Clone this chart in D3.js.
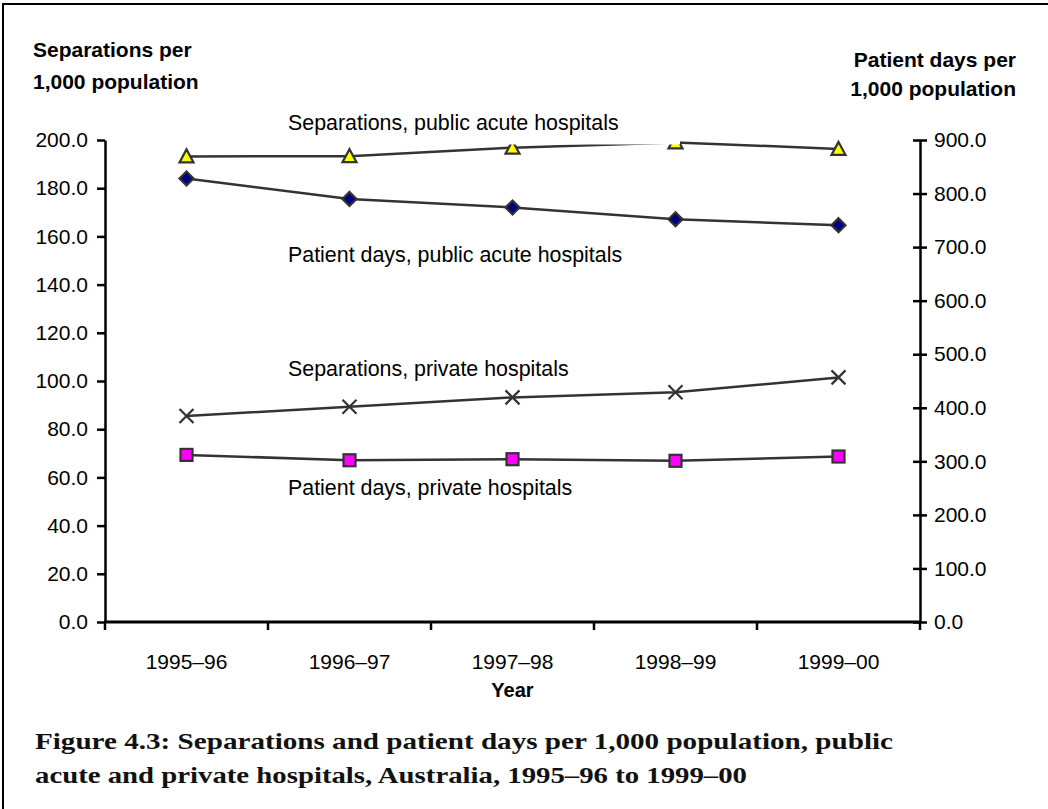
<!DOCTYPE html>
<html>
<head>
<meta charset="utf-8">
<script src="https://cdn.jsdelivr.net/npm/d3@7"></script>
<style>
  body { margin: 0; background: #fff; }
  svg { display: block; font-family: "Liberation Sans", Arial, sans-serif; }
</style>
</head>
<body>
<svg id="chart"></svg>
<script>
const years = ['1995–96', '1996–97', '1997–98', '1998–99', '1999–00'];
// left axis (separations per 1,000)
const sepPublic = [193.2, 193.3, 196.8, 199.0, 196.3];
const sepPrivate = [85.5, 89.3, 93.2, 95.3, 101.5];
// right axis (patient days per 1,000)
const daysPublic = [828, 790, 774, 752, 741];
const daysPrivate = [312, 302, 304, 301, 309];
const leftTicks = d3.range(0, 201, 20);
const rightTicks = d3.range(0, 901, 100);

const W = 1048, H = 809;
const L = 105, R = 920, T = 140, B = 622;
const ink = '#333';

const svg = d3.select('#chart').attr('width', W).attr('height', H);

// partial frame (top and left edges)
svg.append('path').attr('d', `M3,${H} V4 H${W}`)
  .attr('fill', 'none').attr('stroke', '#000').attr('stroke-width', 2);

const x = d3.scaleBand().domain(years).range([L, R]).padding(0);
const yL = d3.scaleLinear().domain([0, 200]).range([B, T]);
const yR = d3.scaleLinear().domain([0, 900]).range([B, T]);
const cx = d => x(d) + x.bandwidth() / 2;

// left axis
const gl = svg.append('g').attr('transform', `translate(${L},0)`)
  .call(d3.axisLeft(yL).tickValues(leftTicks).tickFormat(d3.format('.1f')).tickSize(8).tickSizeOuter(0).tickPadding(9));
// right axis
const gr = svg.append('g').attr('transform', `translate(${R},0)`)
  .call(d3.axisRight(yR).tickValues(rightTicks).tickFormat(d3.format('.1f')).tickSize(7).tickSizeOuter(0).tickPadding(7));
gr.selectAll('.tick line').attr('x1', -7);
// bottom axis: labels only, ticks at band edges
const gb = svg.append('g').attr('transform', `translate(0,${B})`)
  .call(d3.axisBottom(x).tickSize(0).tickPadding(47));
gb.select('.domain').remove();
svg.append('g').selectAll('line')
  .data(years.map(d => x(d)).concat([x(years[years.length - 1]) + x.bandwidth()]))
  .join('line')
  .attr('x1', d => d).attr('x2', d => d).attr('y1', B).attr('y2', B + 8)
  .attr('stroke', '#000').attr('stroke-width', 2.5);
svg.append('line').attr('x1', L - 1).attr('x2', R + 1).attr('y1', B).attr('y2', B)
  .attr('stroke', '#000').attr('stroke-width', 3);

[gl, gr].forEach(g => {
  g.select('.domain').attr('stroke', '#000').attr('stroke-width', 2.5);
  g.selectAll('.tick line').attr('stroke', '#000').attr('stroke-width', 2.5);
});
[gl, gr, gb].forEach(g => {
  g.selectAll('.tick text').attr('font-size', 21).attr('fill', '#000')
    .attr('font-family', '"Liberation Sans", Arial, sans-serif');
});
gb.selectAll('.tick text').attr('font-size', 21).attr('dy', 0);

// series
const series = [
  { vals: sepPublic, y: yL, mark: 'tri' },
  { vals: daysPublic, y: yR, mark: 'dia' },
  { vals: sepPrivate, y: yL, mark: 'x' },
  { vals: daysPrivate, y: yR, mark: 'sq' }
];

const line = s => d3.line().x((d, i) => cx(years[i])).y(d => s.y(d));

series.forEach(s => {
  svg.append('path').datum(s.vals).attr('d', line(s))
    .attr('fill', 'none').attr('stroke', ink).attr('stroke-width', 2.5);
  const g = svg.append('g');
  s.vals.forEach((v, i) => {
    const px = cx(years[i]), py = s.y(v);
    if (s.mark === 'tri') {
      g.append('path').attr('d', `M${px},${py - 7} L${px + 7},${py + 6} L${px - 7},${py + 6} Z`)
        .attr('fill', '#ffff00').attr('stroke', ink).attr('stroke-width', 2.2);
    } else if (s.mark === 'dia') {
      g.append('path').attr('d', `M${px},${py - 7} L${px + 7},${py} L${px},${py + 7} L${px - 7},${py} Z`)
        .attr('fill', '#000080').attr('stroke', ink).attr('stroke-width', 2.2);
    } else if (s.mark === 'x') {
      g.append('path').attr('d', `M${px - 7},${py - 7} L${px + 7},${py + 7} M${px + 7},${py - 7} L${px - 7},${py + 7}`)
        .attr('fill', 'none').attr('stroke', ink).attr('stroke-width', 2.2);
    } else {
      g.append('rect').attr('x', px - 6).attr('y', py - 6).attr('width', 12).attr('height', 12)
        .attr('fill', '#ff00ff').attr('stroke', ink).attr('stroke-width', 2.2);
    }
  });
});

// series labels (the top one sits on a white box, as in the original)
svg.append('rect').attr('x', 283).attr('y', 104).attr('width', 397).attr('height', 40.5).attr('fill', '#fff');
const labels = [
  ['Separations, public acute hospitals', 130],
  ['Patient days, public acute hospitals', 262],
  ['Separations, private hospitals', 376],
  ['Patient days, private hospitals', 495]
];
svg.append('g').selectAll('text').data(labels).join('text')
  .attr('x', 288).attr('y', d => d[1]).attr('font-size', 21.4).attr('fill', '#000')
  .text(d => d[0]);

// axis titles
const bold = (txt, xx, yy, anchor, size) => svg.append('text')
  .attr('x', xx).attr('y', yy).attr('text-anchor', anchor)
  .attr('font-size', size).attr('font-weight', 'bold').attr('fill', '#000').text(txt);
bold('Separations per', 33, 57, 'start', 21);
bold('1,000 population', 33, 89, 'start', 21);
bold('Patient days per', 1016, 67, 'end', 21);
bold('1,000 population', 1016, 96, 'end', 21);
bold('Year', (L + R) / 2, 697, 'middle', 20);

// caption
const cap = [
  ['Figure 4.3: Separations and patient days per 1,000 population, public', 749, 858],
  ['acute and private hospitals, Australia, 1995–96 to 1999–00', 783, 712]
];
svg.append('g').selectAll('text').data(cap).join('text')
  .attr('x', 35).attr('y', d => d[1])
  .attr('font-family', '"Liberation Serif", "DejaVu Serif", serif')
  .attr('font-weight', 'bold').attr('font-size', 23).attr('fill', '#111')
  .attr('textLength', d => d[2]).attr('lengthAdjust', 'spacingAndGlyphs')
  .text(d => d[0]);
</script>
</body>
</html>
